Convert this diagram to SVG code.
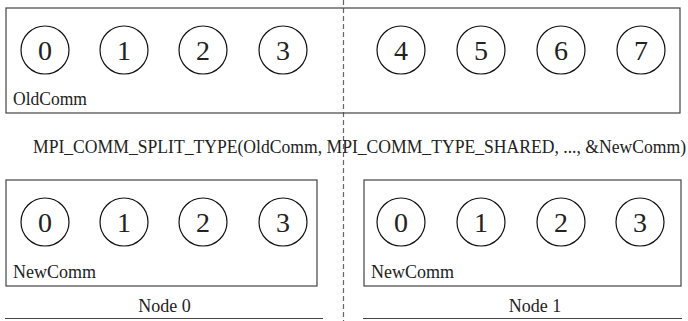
<svg xmlns="http://www.w3.org/2000/svg" width="688" height="321" viewBox="0 0 688 321">
<style>
.box{fill:none;stroke:#444;stroke-width:1.2}
.c{fill:#fff;stroke:#111;stroke-width:1.2}
text{font-family:'Liberation Serif','Times New Roman',serif;fill:#222}
.d{font-size:28px;text-anchor:middle}
.l{font-size:18px}
.m{text-anchor:middle}
.rule{stroke:#444;stroke-width:1.2}
.dash{stroke:#666;stroke-width:1.2;stroke-dasharray:5 3}
</style>
<rect width="688" height="321" fill="#fff"/>
<g id="connectors">
<line class="dash" x1="343.5" y1="0" x2="343.5" y2="321"/>
</g>
<g id="oldcomm">
<rect class="box" x="6" y="8" width="674" height="105"/>
<text class="l" x="13" y="105" textLength="74" lengthAdjust="spacingAndGlyphs">OldComm</text>
</g>
<g id="old0"><circle class="c" cx="45" cy="50" r="24"/><text class="d" x="45" y="60">0</text></g>
<g id="old1"><circle class="c" cx="124" cy="50" r="24"/><text class="d" x="124" y="60">1</text></g>
<g id="old2"><circle class="c" cx="203" cy="50" r="24"/><text class="d" x="203" y="60">2</text></g>
<g id="old3"><circle class="c" cx="283" cy="50" r="24"/><text class="d" x="283" y="60">3</text></g>
<g id="old4"><circle class="c" cx="401" cy="50" r="24"/><text class="d" x="401" y="60">4</text></g>
<g id="old5"><circle class="c" cx="481" cy="50" r="24"/><text class="d" x="481" y="60">5</text></g>
<g id="old6"><circle class="c" cx="561" cy="50" r="24"/><text class="d" x="561" y="60">6</text></g>
<g id="old7"><circle class="c" cx="641" cy="50" r="24"/><text class="d" x="641" y="60">7</text></g>
<g id="call">
<text class="l" x="33" y="153" textLength="653" lengthAdjust="spacingAndGlyphs">MPI_COMM_SPLIT_TYPE(OldComm, MPI_COMM_TYPE_SHARED, ..., &amp;NewComm)</text>
</g>
<g id="newcomm0">
<rect class="box" x="6" y="180" width="311" height="106"/>
<text class="l" x="13" y="278">NewComm</text>
</g>
<g id="n0r0"><circle class="c" cx="45" cy="222" r="24"/><text class="d" x="45" y="232">0</text></g>
<g id="n0r1"><circle class="c" cx="124" cy="222" r="24"/><text class="d" x="124" y="232">1</text></g>
<g id="n0r2"><circle class="c" cx="203" cy="222" r="24"/><text class="d" x="203" y="232">2</text></g>
<g id="n0r3"><circle class="c" cx="283" cy="222" r="24"/><text class="d" x="283" y="232">3</text></g>
<g id="newcomm1">
<rect class="box" x="364" y="180" width="317" height="106"/>
<text class="l" x="371" y="278">NewComm</text>
</g>
<g id="n1r0"><circle class="c" cx="401" cy="222" r="24"/><text class="d" x="401" y="232">0</text></g>
<g id="n1r1"><circle class="c" cx="481" cy="222" r="24"/><text class="d" x="481" y="232">1</text></g>
<g id="n1r2"><circle class="c" cx="561" cy="222" r="24"/><text class="d" x="561" y="232">2</text></g>
<g id="n1r3"><circle class="c" cx="640" cy="222" r="24"/><text class="d" x="640" y="232">3</text></g>
<g id="node0">
<text class="l m" x="164.5" y="312">Node 0</text>
<line class="rule" x1="5" y1="318.5" x2="323" y2="318.5"/>
</g>
<g id="node1">
<text class="l m" x="535" y="312">Node 1</text>
<line class="rule" x1="363" y1="318.5" x2="682" y2="318.5"/>
</g>
</svg>
